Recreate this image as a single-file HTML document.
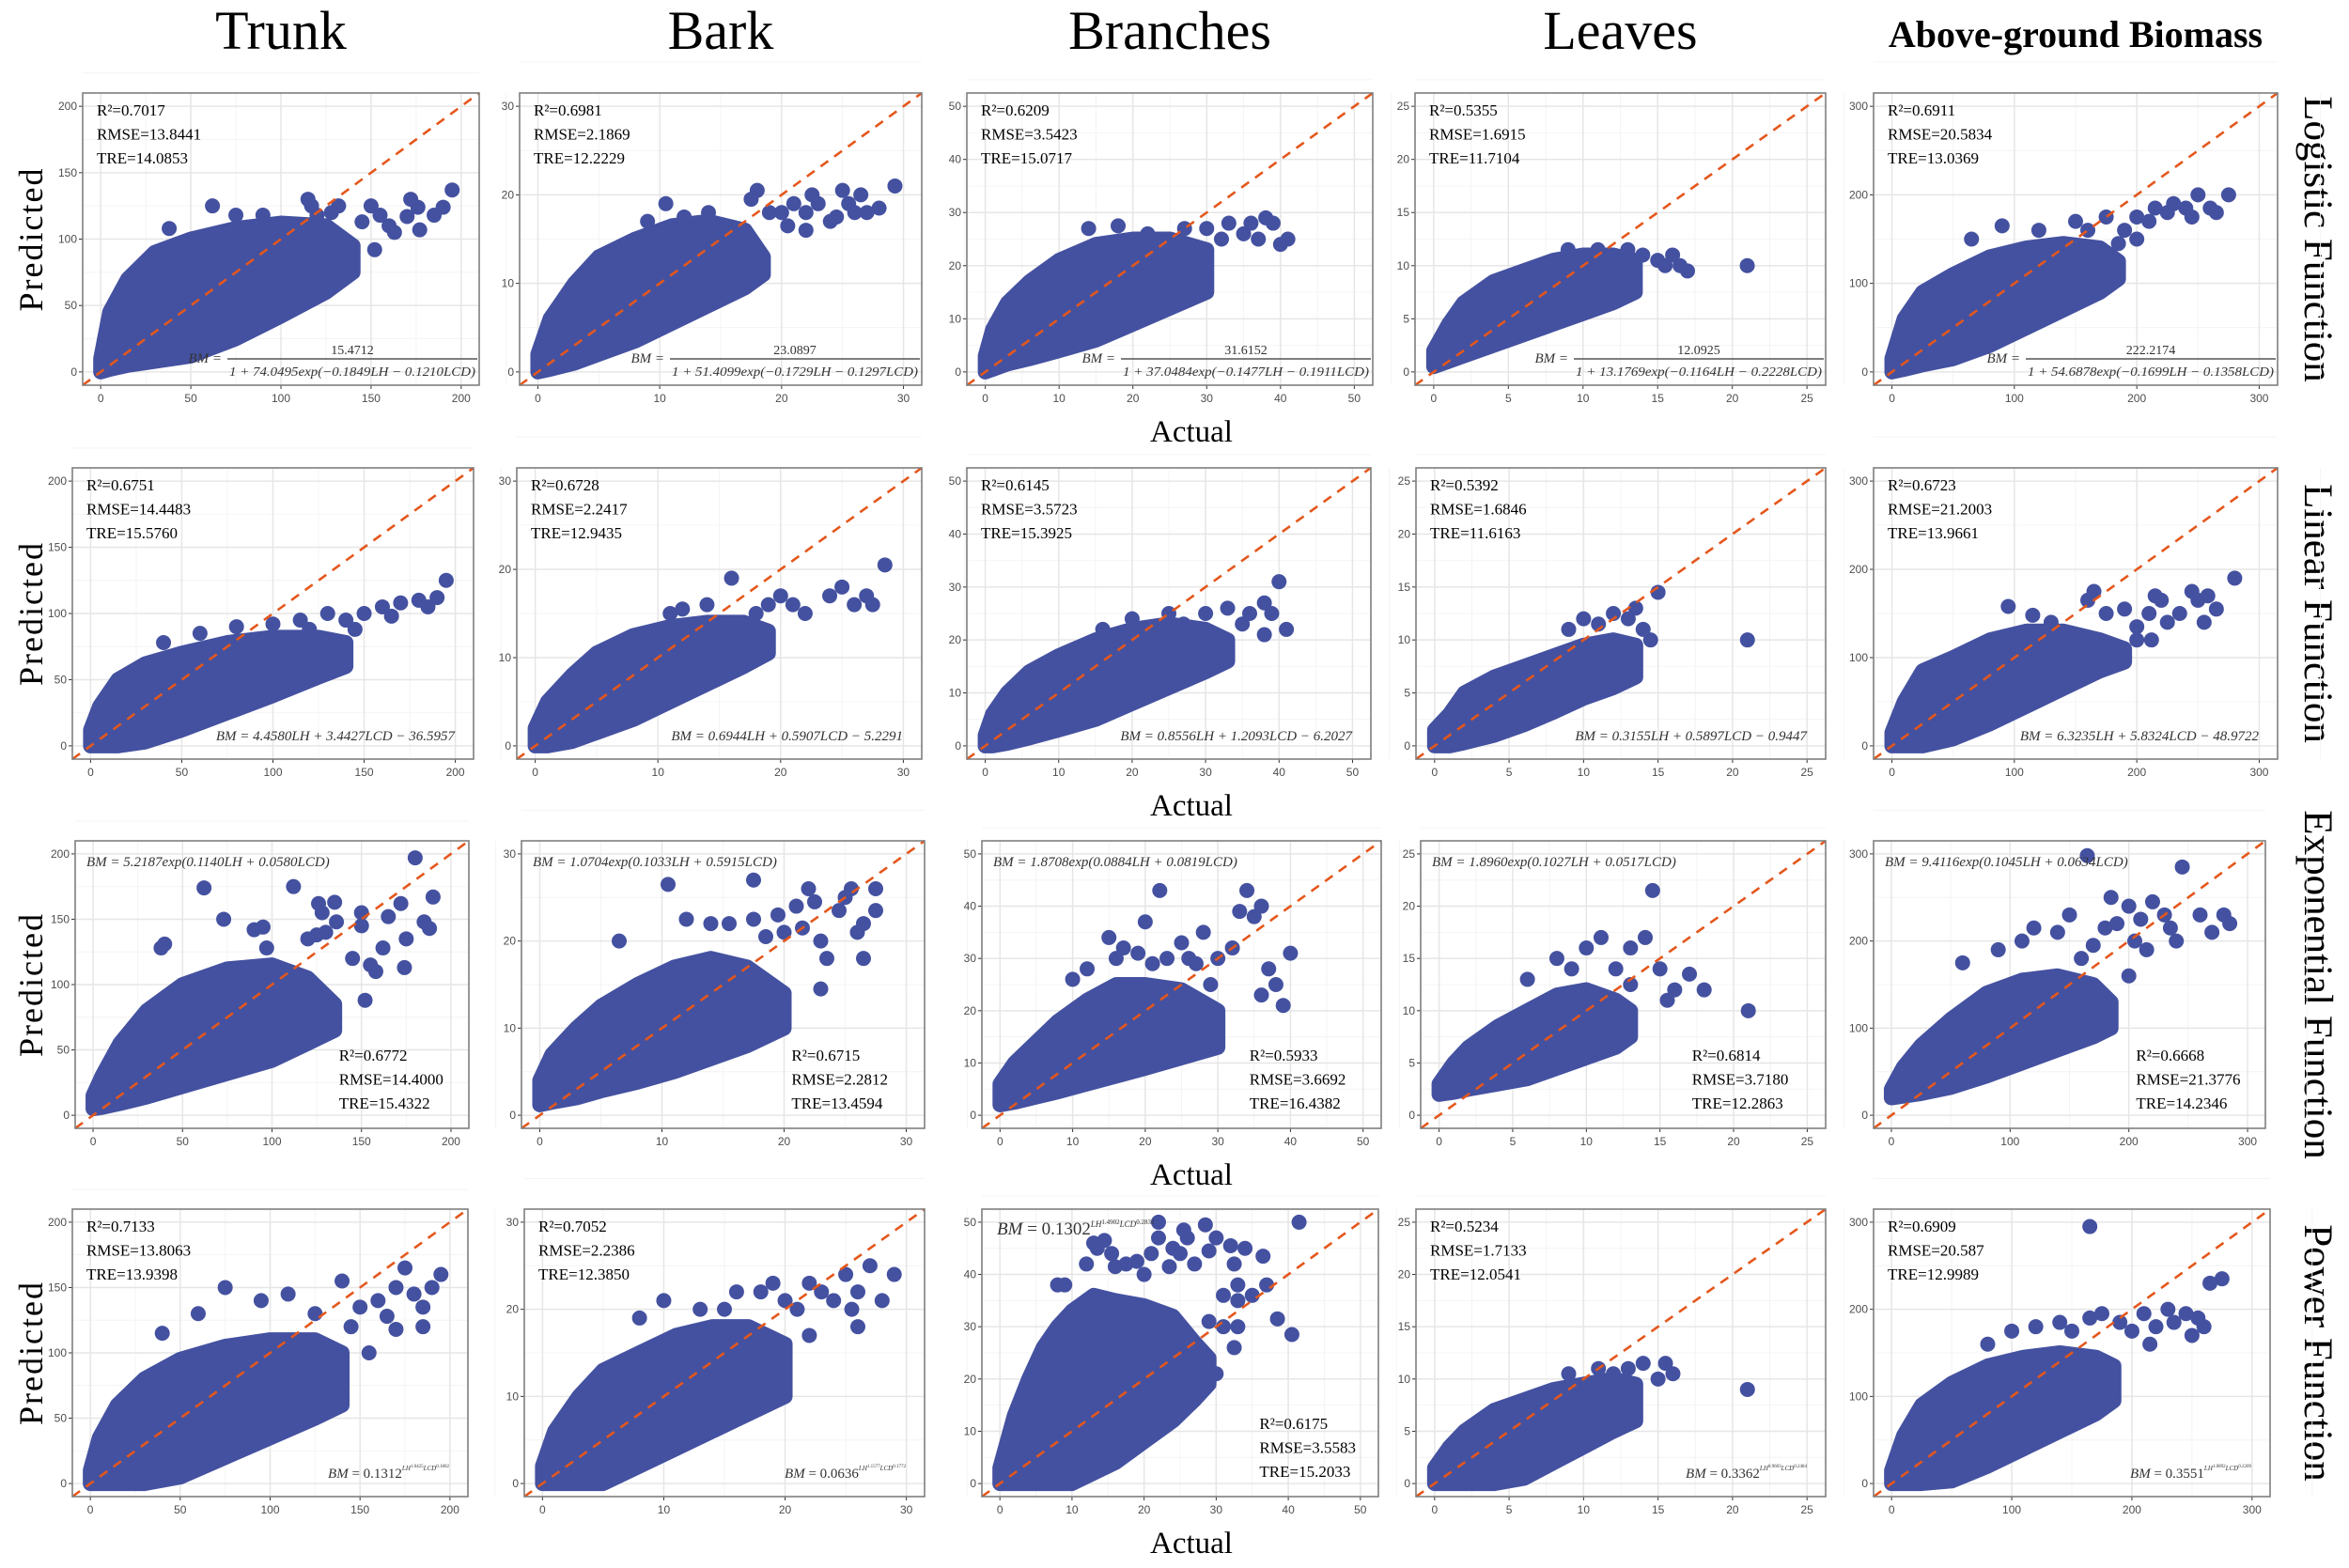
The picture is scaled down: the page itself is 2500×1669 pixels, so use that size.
<!DOCTYPE html>
<html><head><meta charset="utf-8">
<style>
html,body{margin:0;padding:0;background:#fff;}
svg{display:block;}
text{font-family:"Liberation Serif",serif;}
</style></head>
<body>
<svg id="fig" width="2500" height="1669" viewBox="0 0 2500 1669" xmlns="http://www.w3.org/2000/svg"></svg>
<script>
// ===== Data (actual, predicted) =====
// Row 1: Logistic
const trunkLogX=[0,5,15,30,50,75,100,125,140];
const trunkLogHi=[10,45,70,90,100,108,112,110,95];
const trunkLogLo=[0,2,5,8,12,25,42,60,75];
const trunkLogPts=[[38,108],[62,125],[75,118],[90,118],[115,130],[117,125],[132,125],[150,125],[152,92],[155,118],[163,105],[170,117],[172,130],[176,124],[177,107],[185,118],[190,124],[195,137],[145,113],[160,110],[128,120],[120,118]];
const barkLogX=[0,1,3,5,8,11,14,17,18.5];
const barkLogHi=[2,6,10,13,15,16.5,17,16,13];
const barkLogLo=[0,0.3,1,2,3.5,5.5,7.5,9.5,11];
const barkLogPts=[[10.5,19],[12,17.5],[9,17],[14,18],[17.5,19.5],[18,20.5],[19,18],[20,18],[21,19],[22,18],[22.5,20],[23,19],[24,17],[24.5,17.5],[25,20.5],[25.5,19],[26,18],[26.5,20],[27,18],[28,18.5],[29.3,21],[22,16],[20.5,16.5]];
const branchLogX=[0,1,3,6,10,15,20,25,30];
const branchLogHi=[3,8,13,17,21,24,25,25,23];
const branchLogLo=[0,0.5,1.5,2.5,4,6,9,12,15];
const branchLogPts=[[14,27],[18,27.5],[22,26],[27,27],[30,27],[33,28],[35,26],[36,28],[37,25],[38,29],[39,28],[40,24],[41,25],[32,25]];
const leafLogX=[0,1,2,4,6,8,10,12,13.5];
const leafLogHi=[2,4.5,6.5,8.5,9.5,10.5,11,11,10.5];
const leafLogLo=[0.5,1,1.5,2.5,3.5,4.5,5.5,6.5,7.5];
const leafLogPts=[[9,11.5],[11,11.5],[13,11.5],[14,11],[15,10.5],[15.5,10],[16,11],[16.5,10],[17,9.5],[21,10],[12.5,10]];
const agbLogX=[0,10,25,50,80,110,140,170,185];
const agbLogHi=[15,60,90,110,130,140,145,140,125];
const agbLogLo=[0,3,8,15,30,50,70,90,105];
const agbLogPts=[[65,150],[90,165],[120,160],[150,170],[160,160],[175,175],[190,160],[200,175],[210,170],[215,185],[225,180],[230,190],[240,185],[245,175],[250,200],[260,185],[265,180],[275,200],[200,150],[185,145]];
// Row 2: Linear
const trunkLinX=[0,5,15,30,50,75,100,125,140];
const trunkLinHi=[12,30,50,62,70,78,82,82,78];
const trunkLinLo=[0,0,0,3,12,25,38,52,60];
const trunkLinPts=[[40,78],[60,85],[80,90],[100,92],[115,95],[130,100],[140,95],[150,100],[160,105],[165,98],[170,108],[180,110],[185,105],[190,112],[195,125],[120,88],[145,88]];
const barkLinX=[0,1,3,5,8,11,14,17,19];
const barkLinHi=[2,5,8,10.5,12.5,13.5,14,14,13];
const barkLinLo=[0,0,0.5,1.5,3,5,7,9,10.5];
const barkLinPts=[[11,15],[12,15.5],[14,16],[16,19],[18,15],[20,17],[21,16],[22,15],[24,17],[25,18],[26,16],[27,17],[27.5,16],[28.5,20.5],[19,16]];
const branchLinX=[0,1,3,6,10,15,20,25,30,33];
const branchLinHi=[2,6,10,14,17,20,22,23,22,20];
const branchLinLo=[0,0,0.5,1.5,3,5,8,11,14,16];
const branchLinPts=[[16,22],[20,24],[25,25],[27,23],[30,25],[33,26],[35,23],[36,25],[38,27],[39,25],[40,31],[41,22],[38,21]];
const leafLinX=[0,1,2,4,6,8,10,12,13.5];
const leafLinHi=[1.5,3,5,6.5,7.5,8.5,9.5,10,9.5];
const leafLinLo=[0,0,0.3,1,2,3.2,4.5,5.5,6.5];
const leafLinPts=[[9,11],[10,12],[11,11.5],[12,12.5],[13,12],[13.5,13],[14,11],[15,14.5],[14.5,10],[21,10]];
const agbLinX=[0,10,25,50,80,110,140,170,190];
const agbLinHi=[15,50,85,100,120,130,130,120,110];
const agbLinLo=[0,0,0,8,25,45,65,85,95];
const agbLinPts=[[95,158],[115,148],[130,140],[165,175],[160,165],[175,150],[190,155],[200,135],[210,150],[215,170],[220,165],[225,140],[235,150],[245,175],[250,165],[255,140],[258,170],[265,155],[280,190],[200,120],[212,120]];
// Row 3: Exponential
const trunkExpX=[0,5,15,30,50,75,100,120,135];
const trunkExpHi=[15,30,55,80,100,112,115,105,85];
const trunkExpLo=[5,6,9,14,22,32,42,55,65];
const trunkExpPts=[[38,128],[40,131],[62,174],[73,150],[90,142],[95,144],[97,128],[112,175],[120,135],[125,138],[126,162],[128,155],[130,140],[135,163],[136,148],[145,120],[150,155],[152,88],[155,115],[158,110],[162,128],[165,152],[172,162],[174,113],[175,135],[180,197],[185,148],[188,143],[190,167],[150,145]];
const barkExpX=[0,1,3,5,8,11,14,17,20];
const barkExpHi=[4,7,10,12.5,15,17,18,17,14];
const barkExpLo=[1.2,1.5,2,2.8,3.8,5,6.5,8,10];
const barkExpPts=[[6.5,20],[10.5,26.5],[12,22.5],[14,22],[15.5,22],[17.5,27],[17.5,22.5],[18.5,20.5],[19.5,23],[20,21],[21,24],[21.5,21.5],[22,26],[22.5,24.5],[23,20],[23.5,18],[24.5,23.5],[25,25],[25.5,26],[26,21],[26.5,18],[26.5,22],[27.5,26],[27.5,23.5],[23,14.5]];
const branchExpX=[0,2,5,8,12,16,20,25,30];
const branchExpHi=[6,10,14,18,22,25,25,24,20];
const branchExpLo=[2,2.5,3.5,4.5,6,7.5,9,11,13];
const branchExpPts=[[10,26],[12,28],[15,34],[16,30],[17,32],[19,31],[20,37],[21,29],[22,43],[23,30],[25,33],[26,30],[27,29],[28,35],[29,25],[30,30],[32,32],[33,39],[34,43],[35,38],[36,40],[37,28],[38,25],[39,21],[40,31],[36,23]];
const leafExpX=[0,1,2,4,6,8,10,12,13];
const leafExpHi=[3,5,6.5,8.5,10,11.5,12,11,10];
const leafExpLo=[2,2.2,2.5,3,3.5,4.5,5.5,6.5,7.5];
const leafExpPts=[[6,13],[8,15],[9,14],[10,16],[11,17],[12,14],[13,16],[14,17],[14.5,21.5],[15,14],[15.5,11],[16,12],[17,13.5],[18,12],[21,10],[13,12.5]];
const agbExpX=[0,10,25,50,80,110,140,170,185];
const agbExpHi=[30,55,80,110,140,155,160,150,130];
const agbExpLo=[20,22,25,32,45,60,75,90,100];
const agbExpPts=[[60,175],[90,190],[110,200],[120,215],[140,210],[150,230],[160,180],[165,298],[170,195],[180,215],[185,250],[190,220],[200,240],[205,200],[210,225],[215,190],[220,245],[230,230],[235,215],[240,200],[245,285],[260,230],[270,210],[280,230],[285,220],[200,160]];
// Row 4: Power
const trunkPowX=[0,5,15,30,50,75,100,125,140];
const trunkPowHi=[10,35,60,80,95,105,110,110,100];
const trunkPowLo=[0,0,0,0,5,20,35,50,60];
const trunkPowPts=[[40,115],[60,130],[75,150],[95,140],[110,145],[125,130],[140,155],[145,120],[150,135],[160,140],[165,128],[170,150],[175,165],[180,145],[185,135],[190,150],[195,160],[155,100],[170,118],[185,120]];
const barkPowX=[0,1,3,5,8,11,14,17,20];
const barkPowHi=[2,6,10,13,15,17,18,18,16];
const barkPowLo=[0,0,0,0,2,4,6,8,10];
const barkPowPts=[[8,19],[10,21],[13,20],[15,20],[16,22],[18,22],[19,23],[20,21],[21,20],[22,23],[23,22],[24,21],[25,24],[25.5,20],[26,22],[27,25],[28,21],[29,24],[22,17],[26,18]];
const branchPowX=[0,1,2,4,6,8,10,13,16,20,24,27,29];
const branchPowHi=[3,8,13,20,26,30,33,36,35,34,32,27,24];
const branchPowLo=[0,0,0,0,0,0,0,2,4,8,12,16,19];
const branchPowPts=[[8,38],[9,38],[12,42],[13,46],[13.5,45],[14.5,46.5],[15.5,44],[16,41.5],[17.5,42],[19,42.5],[20,40],[21,44],[22,50],[22,47],[23.5,41.5],[24,45],[25,44],[25.5,48.5],[26,47],[27,42],[28.5,49.5],[29,44.5],[30,47],[31,36],[32,45.5],[32.5,42],[33,38],[33,35],[34,45],[35,36],[36.5,43.5],[37,38],[38.5,31.5],[40.5,28.5],[41.5,50],[29,31],[31,30],[32.5,26],[30,21],[28.5,19.5],[33,30]];
const leafPowX=[0,1,2,4,6,8,10,12,13.5];
const leafPowHi=[1.5,3.5,5,7,8,9,9.5,10,9.5];
const leafPowLo=[0,0,0,0,0.5,2,3.5,5,6];
const leafPowPts=[[9,10.5],[11,11],[12,10.5],[13,11],[14,11.5],[15,10],[15.5,11.5],[16,10.5],[21,9]];
const agbPowX=[0,10,25,50,80,110,140,170,185];
const agbPowHi=[15,55,90,115,135,145,150,145,135];
const agbPowLo=[0,0,0,3,20,40,60,80,95];
const agbPowPts=[[80,160],[100,175],[120,180],[140,185],[150,175],[165,190],[175,195],[190,185],[200,175],[210,195],[220,180],[230,200],[235,185],[245,195],[255,190],[260,180],[265,230],[275,235],[250,170],[215,160],[165,295]];

const axisMax=[200,30,50,25,300];
const axisStep=[50,10,10,5,100];
const colTitles=["Trunk","Bark","Branches","Leaves","Above-ground Biomass"];
const rowTitles=["Logistic Function","Linear Function","Exponential Function","Power Function"];
const stats=[
 [["0.7017","13.8441","14.0853"],["0.6981","2.1869","12.2229"],["0.6209","3.5423","15.0717"],["0.5355","1.6915","11.7104"],["0.6911","20.5834","13.0369"]],
 [["0.6751","14.4483","15.5760"],["0.6728","2.2417","12.9435"],["0.6145","3.5723","15.3925"],["0.5392","1.6846","11.6163"],["0.6723","21.2003","13.9661"]],
 [["0.6772","14.4000","15.4322"],["0.6715","2.2812","13.4594"],["0.5933","3.6692","16.4382"],["0.6814","3.7180","12.2863"],["0.6668","21.3776","14.2346"]],
 [["0.7133","13.8063","13.9398"],["0.7052","2.2386","12.3850"],["0.6175","3.5583","15.2033"],["0.5234","1.7133","12.0541"],["0.6909","20.587","12.9989"]]];
const logNum=["15.4712","23.0897","31.6152","12.0925","222.2174"];
const logDen=["1 + 74.0495exp(−0.1849LH − 0.1210LCD)","1 + 51.4099exp(−0.1729LH − 0.1297LCD)","1 + 37.0484exp(−0.1477LH − 0.1911LCD)","1 + 13.1769exp(−0.1164LH − 0.2228LCD)","1 + 54.6878exp(−0.1699LH − 0.1358LCD)"];
const linEq=["BM = 4.4580LH + 3.4427LCD − 36.5957","BM = 0.6944LH + 0.5907LCD − 5.2291","BM = 0.8556LH + 1.2093LCD − 6.2027","BM = 0.3155LH + 0.5897LCD − 0.9447","BM = 6.3235LH + 5.8324LCD − 48.9722"];
const expEq=["BM = 5.2187exp(0.1140LH + 0.0580LCD)","BM = 1.0704exp(0.1033LH + 0.5915LCD)","BM = 1.8708exp(0.0884LH + 0.0819LCD)","BM = 1.8960exp(0.1027LH + 0.0517LCD)","BM = 9.4116exp(0.1045LH + 0.0634LCD)"];
const powCoef=["0.1312","0.0636","0.1302","0.3362","0.3551"];
const powLH=["1.0425","1.1577","1.4902","0.9603","1.0892"];
const powLCD=["0.1802","0.1772","0.2832","0.2484","0.2209"];

const panelX=[[trunkLogX,barkLogX,branchLogX,leafLogX,agbLogX],[trunkLinX,barkLinX,branchLinX,leafLinX,agbLinX],[trunkExpX,barkExpX,branchExpX,leafExpX,agbExpX],[trunkPowX,barkPowX,branchPowX,leafPowX,agbPowX]];
const panelHi=[[trunkLogHi,barkLogHi,branchLogHi,leafLogHi,agbLogHi],[trunkLinHi,barkLinHi,branchLinHi,leafLinHi,agbLinHi],[trunkExpHi,barkExpHi,branchExpHi,leafExpHi,agbExpHi],[trunkPowHi,barkPowHi,branchPowHi,leafPowHi,agbPowHi]];
const panelLo=[[trunkLogLo,barkLogLo,branchLogLo,leafLogLo,agbLogLo],[trunkLinLo,barkLinLo,branchLinLo,leafLinLo,agbLinLo],[trunkExpLo,barkExpLo,branchExpLo,leafExpLo,agbExpLo],[trunkPowLo,barkPowLo,branchPowLo,leafPowLo,agbPowLo]];
const panelPts=[[trunkLogPts,barkLogPts,branchLogPts,leafLogPts,agbLogPts],[trunkLinPts,barkLinPts,branchLinPts,leafLinPts,agbLinPts],[trunkExpPts,barkExpPts,branchExpPts,leafExpPts,agbExpPts],[trunkPowPts,barkPowPts,branchPowPts,leafPowPts,agbPowPts]];

// ===== Layout =====
const rowTB=[[99,410],[498,808],[895,1201],[1287,1593]];
const colLR=[
 [[88,510],[553,981],[1029,1461],[1506,1943],[1994,2424]],
 [[77,504],[550,981],[1029,1459],[1507,1943],[1994,2424]],
 [[80,499],[555,984],[1045,1470],[1512,1943],[1994,2411]],
 [[77,498],[558,984],[1045,1467],[1507,1943],[1994,2416]]];
const DOT="#4451a0", NS="http://www.w3.org/2000/svg";
const svg=document.getElementById('fig');
function mk(tag,attrs,parent,txt){const e=document.createElementNS(NS,tag);for(const k in attrs)e.setAttribute(k,attrs[k]);if(txt!==undefined)e.textContent=txt;(parent||svg).appendChild(e);return e;}

colTitles.forEach((t,c)=>{
 const [L,R]=colLR[0][c];
 const e=mk('text',{x:(L+R)/2,y:c===4?50:52,'text-anchor':'middle','font-size':c===4?40:58,'font-weight':c===4?'bold':'normal',fill:'#000'},svg,t);
 
 
});
rowTitles.forEach((t,r)=>{
 const [T,B]=rowTB[r];const cy=(T+B)/2;
 const e=mk('text',{x:0,y:0,transform:`translate(2453,${cy}) rotate(90)`,'text-anchor':'middle','font-size':43,fill:'#000'},svg,t);
 
 
 const p=mk('text',{x:0,y:0,transform:`translate(45,${cy}) rotate(-90)`,'text-anchor':'middle','font-size':36,'letter-spacing':2,fill:'#000'},svg,'Predicted');
 
 
 const a=mk('text',{x:1268,y:B+60,'text-anchor':'middle','font-size':33,fill:'#000'},svg,'Actual');
 
 
});

const defs=mk('defs',{});
for(let r=0;r<4;r++)for(let c=0;c<5;c++){
 const [T,B]=rowTB[r],[L,R]=colLR[r][c];
 const mx=axisMax[c],lo=-0.05*mx,hi=1.05*mx;
 const sx=v=>L+(v-lo)/(hi-lo)*(R-L), sy=v=>B-(v-lo)/(hi-lo)*(B-T);
 const g=mk('g',{});
 
 
 const cid=`clip${r}${c}`;
 const cp=mk('clipPath',{id:cid},defs);mk('rect',{x:L,y:T,width:R-L,height:B-T},cp);
 mk('rect',{x:L,y:T,width:R-L,height:B-T,fill:'#fff'},g);
 const st=axisStep[c];
 for(let v=st/2;v<mx+st;v+=st){mk('line',{x1:sx(v),x2:sx(v),y1:T,y2:B,stroke:'#f4f4f4','stroke-width':1},g);mk('line',{y1:sy(v),y2:sy(v),x1:L,x2:R,stroke:'#f4f4f4','stroke-width':1},g);}
 for(let v=0;v<=mx;v+=st){
  mk('line',{x1:sx(v),x2:sx(v),y1:T,y2:B,stroke:'#e6e6e6','stroke-width':1.5},g);
  mk('line',{y1:sy(v),y2:sy(v),x1:L,x2:R,stroke:'#e6e6e6','stroke-width':1.5},g);
  mk('line',{x1:sx(v),x2:sx(v),y1:B,y2:B+4,stroke:'#333','stroke-width':1},g);
  mk('line',{y1:sy(v),y2:sy(v),x1:L-4,x2:L,stroke:'#333','stroke-width':1},g);
  const xt=mk('text',{x:sx(v),y:B+18,'text-anchor':'middle','font-size':12,fill:'#4d4d4d',style:'font-family:"Liberation Sans",sans-serif'},g,String(v));
  
  
  const yt=mk('text',{x:L-6,y:sy(v)+4,'text-anchor':'end','font-size':12,fill:'#4d4d4d',style:'font-family:"Liberation Sans",sans-serif'},g,String(v));
  
  
 }
 const cg=mk('g',{'clip-path':`url(#${cid})`},g);
 const xs=panelX[r][c],up=panelHi[r][c],dn=panelLo[r][c];
 let pts=[];
 for(let i=0;i<xs.length;i++)pts.push(sx(xs[i])+','+sy(up[i]));
 for(let i=xs.length-1;i>=0;i--)pts.push(sx(xs[i])+','+sy(dn[i]));
 const poly=mk('polygon',{points:pts.join(' '),fill:DOT,stroke:DOT,'stroke-width':16,'stroke-linejoin':'round'},cg);
 
 
 panelPts[r][c].forEach(p=>{
  const d=mk('circle',{cx:sx(p[0]),cy:sy(p[1]),r:8,fill:DOT},cg);
  
  
 });
 const dl=mk('line',{x1:sx(lo),y1:sy(lo),x2:sx(hi),y2:sy(hi),stroke:'#e4571c','stroke-width':2.6,'stroke-dasharray':'10 8'},g);
 
 
 mk('rect',{x:L,y:T,width:R-L,height:B-T,fill:'none',stroke:'#7f7f7f','stroke-width':1.6},g);
 const s=stats[r][c];
 let sx0=L+15, sy0=T+24;
 if(r===2){sx0=L+0.67*(R-L);sy0=B-72;}
 if(r===3&&c===2){sx0=L+0.70*(R-L);sy0=B-72;}
 ['R²='+s[0],'RMSE='+s[1],'TRE='+s[2]].forEach((t,i)=>{
  const e=mk('text',{x:sx0,y:sy0+i*25.5,'font-size':17,fill:'#000'},g,t);
  
  
 });
 const fs='font-style:italic';
 if(r===0){
  const x1=R-268,x2=R-2;
  mk('text',{x:x1-6,y:B-24,'text-anchor':'end','font-size':15,style:fs,fill:'#333'},g,'BM =');
  const n=mk('text',{x:(x1+x2)/2,y:B-33,'text-anchor':'middle','font-size':14,fill:'#333'},g,logNum[c]);
  
  
  mk('line',{x1:x1,x2:x2,y1:B-28,y2:B-28,stroke:'#555','stroke-width':1.6},g);
  const d=mk('text',{x:x1+2,y:B-10,'font-size':14,style:fs,fill:'#333',textLength:x2-x1-4,lengthAdjust:'spacingAndGlyphs'},g,logDen[c]);
  
  
 } else if(r===1){
  const e=mk('text',{x:R-20,y:B-20,'text-anchor':'end','font-size':15,style:fs,fill:'#333'},g,linEq[c]);
  
  
 } else if(r===2){
  const e=mk('text',{x:L+12,y:T+27,'font-size':15,style:fs,fill:'#333'},g,expEq[c]);
  
  
 } else {
  const top=(c===2);
  const e=mk('text',{x:top?L+16:R-20,y:top?T+27:B-20,'text-anchor':top?'start':'end','font-size':top?19:15,fill:'#333'},g);
  
  
  mk('tspan',{style:fs},e,'BM');
  mk('tspan',{},e,' = '+powCoef[c]);
  mk('tspan',{dy:-8,'font-size':top?9:7,style:fs},e,'LH');
  mk('tspan',{dy:-3,'font-size':top?7:5},e,powLH[c]);
  mk('tspan',{dy:3,'font-size':top?9:7,style:fs},e,'LCD');
  mk('tspan',{dy:-3,'font-size':top?7:5},e,powLCD[c]);
 }
}
</script>
</body></html>
